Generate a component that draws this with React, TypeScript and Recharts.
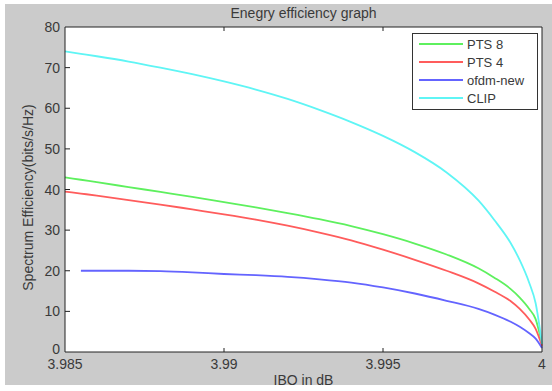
import { CartesianGrid, Label, Legend, Line, LineChart, XAxis, YAxis } from "recharts"

const ibo = [3.985, 3.9855, 3.986, 3.987, 3.988, 3.989, 3.99, 3.991, 3.992, 3.993, 3.994, 3.995, 3.996, 3.997, 3.998, 3.9985, 3.999, 3.9993, 3.9996, 3.9998, 4]
const pts8 = [43, 42.4, 41.8, 40.6, 39.4, 38.2, 36.9, 35.6, 34.2, 32.7, 31, 29, 26.7, 24, 20.6, 18.3, 15.6, 13.4, 10.6, 8.1, 2]
const pts4 = [39.5, 39, 38.5, 37.4, 36.3, 35.1, 33.9, 32.6, 31.1, 29.4, 27.5, 25.2, 22.7, 20, 16.9, 14.9, 12.6, 10.6, 8, 5.7, 1.5]
const ofdmNew = [null, 20, 20, 20, 19.9, 19.6, 19.2, 18.9, 18.5, 17.9, 17.1, 15.9, 14.4, 12.6, 10.6, 9.2, 7.5, 6.2, 4.6, 3.3, 1]
const clip = [74, 73.4, 72.8, 71.5, 70, 68.4, 66.6, 64.6, 62.3, 59.6, 56.6, 53.2, 49.2, 44.2, 37.3, 32.5, 27, 22.6, 17, 12, 2]

const xTicks = [3.985, 3.99, 3.995, 4]
const yTicks = [0, 10, 20, 30, 40, 50, 60, 70, 80]

const series = [
  { key: "pts8", name: "PTS 8", color: "#5ef05e" },
  { key: "pts4", name: "PTS 4", color: "#ff5c5c" },
  { key: "ofdm", name: "ofdm-new", color: "#6464ff" },
  { key: "clip", name: "CLIP", color: "#5ff5f5" },
]

const data = ibo.map((x, i) => ({ x, pts8: pts8[i], pts4: pts4[i], ofdm: ofdmNew[i], clip: clip[i] }))

const FONT = "'Liberation Sans', Arial, sans-serif"
const TEXT = "#3a3a3a"

const LeftTick = (props: any) => {
  const { x, y, payload } = props
  const ax = x + 5
  const v = payload.value
  return (
    <g>
      {v !== 0 && v !== 80 && <line x1={ax} x2={ax + 5} y1={y} y2={y} stroke="#222" />}
      <text x={x} y={v === 0 ? y - 3 : y} dy={5} textAnchor="end" fontSize={14} fill={TEXT} fontFamily={FONT}>
        {v}
      </text>
    </g>
  )
}

const RightTick = (props: any) => {
  const { x, y, payload } = props
  const v = payload.value
  if (v === 0 || v === 80) return <g />
  return <line x1={x - 5} x2={x} y1={y} y2={y} stroke="#222" />
}

const BottomTick = (props: any) => {
  const { x, y, payload } = props
  const ay = y - 2
  const v = payload.value
  return (
    <g>
      {v !== 3.985 && v !== 4 && <line x1={x} x2={x} y1={ay} y2={ay - 4} stroke="#222" />}
      <text x={x} y={y + 15} textAnchor="middle" fontSize={14} fill={TEXT} fontFamily={FONT}>
        {String(v)}
      </text>
    </g>
  )
}

const TopTick = (props: any) => {
  const { x, y, payload } = props
  const v = payload.value
  if (v === 3.985 || v === 4) return <g />
  return <line x1={x} x2={x} y1={y} y2={y + 4} stroke="#222" />
}

const YTitle = (props: any) => {
  const { viewBox } = props
  const x = viewBox.x + 28
  const y = viewBox.y + viewBox.height / 2 + 8
  return (
    <text
      x={x}
      y={y}
      transform={`rotate(-90 ${x} ${y})`}
      textAnchor="middle"
      dominantBaseline="central"
      fontSize={14}
      fill={TEXT}
      fontFamily={FONT}
    >
      Spectrum Efficiency(bits/s/Hz)
    </text>
  )
}

const LegendBox = () => (
  <svg width={126} height={77} style={{ display: "block" }}>
    <rect x={0.5} y={0.5} width={125} height={76} fill="#fff" stroke="#333" />
    {series.map((s, i) => (
      <g key={s.key}>
        <line x1={7} x2={51} y1={11 + i * 18} y2={11 + i * 18} stroke={s.color} strokeWidth={1.8} />
        <text x={55} y={11 + i * 18} dy={5} fontSize={13} fill={TEXT} fontFamily={FONT}>
          {s.name}
        </text>
      </g>
    ))}
  </svg>
)

export default function App() {
  return (
    <div style={{ position: "absolute", left: 0, top: 0, width: 552, height: 391, background: "#fff" }}>
      <div style={{ position: "absolute", left: 5, top: 4, width: 547, height: 381, background: "#cbcbcb" }} />
      <div style={{ position: "absolute", left: 0, top: 0 }}>
        <LineChart width={552} height={391} data={data} margin={{ top: 26, right: 0, bottom: 0, left: 0 }}>
          <CartesianGrid horizontal={false} vertical={false} fill="#fff" />
          <XAxis
            dataKey="x"
            type="number"
            domain={[3.985, 4]}
            ticks={xTicks}
            interval={0}
            height={39}
            stroke="#222"
            tickLine={false}
            tickSize={0}
            tickMargin={2}
            tick={<BottomTick />}
          >
            <Label value="IBO in dB" position="insideBottom" offset={6} fontSize={14} fill={TEXT} fontFamily={FONT} />
          </XAxis>
          <XAxis
            xAxisId="top"
            orientation="top"
            dataKey="x"
            type="number"
            domain={[3.985, 4]}
            ticks={xTicks}
            interval={0}
            height={1}
            stroke="#222"
            tickLine={false}
            tickSize={0}
            tickMargin={0}
            tick={<TopTick />}
          >
            <Label value="Enegry efficiency graph" position="top" offset={8} fontSize={14} fill={TEXT} fontFamily={FONT} />
          </XAxis>
          <YAxis
            domain={[0, 80]}
            ticks={yTicks}
            interval={0}
            width={65}
            stroke="#222"
            tickLine={false}
            tickSize={0}
            tickMargin={5}
            tick={<LeftTick />}
          >
            <Label content={<YTitle />} />
          </YAxis>
          <YAxis
            yAxisId="right"
            orientation="right"
            domain={[0, 80]}
            ticks={yTicks}
            interval={0}
            width={10}
            stroke="#222"
            tickLine={false}
            tickSize={0}
            tickMargin={0}
            tick={<RightTick />}
          />
          <Legend
            layout="vertical"
            align="center"
            verticalAlign="middle"
            content={<LegendBox />}
            wrapperStyle={{ position: "absolute", left: 412, top: 33, width: 126, height: 77 }}
          />
          {series.map((s) => (
            <Line
              key={s.key}
              type="monotone"
              dataKey={s.key}
              name={s.name}
              stroke={s.color}
              strokeWidth={1.8}
              dot={false}
              isAnimationActive={false}
            />
          ))}
        </LineChart>
      </div>
    </div>
  )
}
